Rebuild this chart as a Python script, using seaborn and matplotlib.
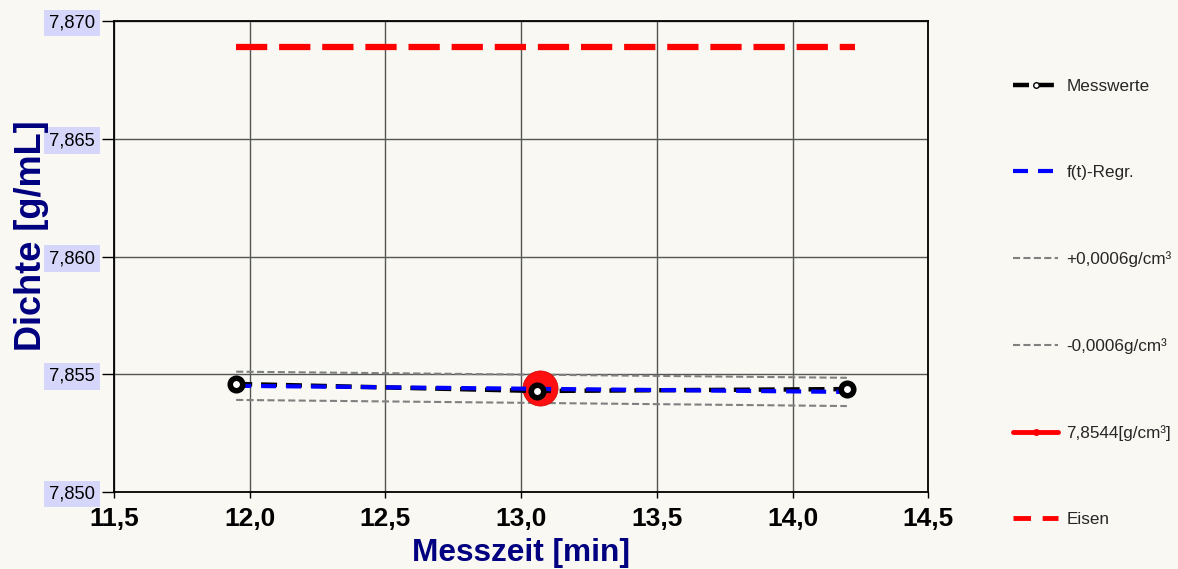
import numpy as np
import pandas as pd
import seaborn as sns
import matplotlib.pyplot as plt
from matplotlib.lines import Line2D
from matplotlib.ticker import FuncFormatter

# ---- data ----
mess_t = [11.95, 13.06, 14.20]
mess_rho = [7.85459, 7.85429, 7.85437]

reg_t = [11.95, 14.20]
reg_rho = [7.85451, 7.85425]
upper_rho = [7.85511, 7.85485]
lower_rho = [7.85391, 7.85365]

mean_t = [13.07]
mean_rho = [7.8544]

eisen_t = [11.95, 14.23]
eisen_rho = [7.8689, 7.8689]

x_ticks = [11.5, 12.0, 12.5, 13.0, 13.5, 14.0, 14.5]
y_ticks = [7.850, 7.855, 7.860, 7.865, 7.870]

legend_labels = ["Messwerte", "f(t)-Regr.", "+0,0006g/cm³", "-0,0006g/cm³",
                 "7,8544[g/cm³]", "Eisen"]

bg = "#f9f8f2"
navy = "#000080"

sns.set_theme(style="ticks")
plt.rcParams["font.family"] = ["Liberation Sans", "DejaVu Sans"]

fig = plt.figure(figsize=(11.78, 5.69), dpi=100, facecolor=bg)
ax = fig.add_axes([0.0968, 0.1353, 0.6912, 0.8278])
ax.set_facecolor(bg)

# bands
sns.lineplot(x=reg_t, y=upper_rho, ax=ax, color="#808080", lw=1.5,
             zorder=3).lines[-1].set_dashes((3.4, 1.6))
sns.lineplot(x=reg_t, y=lower_rho, ax=ax, color="#808080", lw=1.5,
             zorder=3).lines[-1].set_dashes((3.4, 1.6))

# Eisen reference
sns.lineplot(x=eisen_t, y=eisen_rho, ax=ax, color="#ff0000", lw=4.5,
             zorder=3).lines[-1].set_dashes((5, 1.9))

# mean point
sns.scatterplot(x=mean_t, y=mean_rho, ax=ax, s=640, color="#ff1010",
                edgecolor="#d00000", linewidth=0.5, zorder=4)

# measurements
sns.lineplot(x=mess_t, y=mess_rho, ax=ax, color="black", lw=3.2,
             zorder=5).lines[-1].set_dashes((3.6, 2))
ax.plot(mess_t, mess_rho, ls="none", marker="o", ms=9, mfc="white",
        mec="black", mew=4, zorder=7)

# regression
sns.lineplot(x=reg_t, y=reg_rho, ax=ax, color="#0000ff", lw=3.0,
             zorder=6).lines[-1].set_dashes((3.6, 2.4))

ax.set_xlim(11.5, 14.5)
ax.set_ylim(7.850, 7.870)
ax.set_xticks(x_ticks)
ax.set_yticks(y_ticks)
ax.xaxis.set_major_formatter(FuncFormatter(lambda v, p: f"{v:.1f}".replace(".", ",")))
ax.yaxis.set_major_formatter(FuncFormatter(lambda v, p: f"{v:.3f}".replace(".", ",")))
ax.grid(True, color="#555555", lw=1.0)
for s in ax.spines.values():
    s.set_color("black")
    s.set_linewidth(1.3)

ax.tick_params(axis="y", direction="out", length=9, width=1, labelsize=13.2,
               pad=5, colors="black")
ax.tick_params(axis="x", direction="out", length=4, width=1, labelsize=19,
               pad=7, colors="black")
for lbl in ax.get_xticklabels():
    lbl.set_fontweight("bold")
for lbl in ax.get_yticklabels():
    lbl.set_bbox(dict(facecolor="#d6d6fa", edgecolor="none", pad=3.5))

ax.set_xlabel("Messzeit [min]", fontsize=22.8, fontweight="bold", color=navy, labelpad=5)
ax.set_ylabel("Dichte [g/mL]", fontsize=26, fontweight="bold", color=navy)
ax.yaxis.set_label_coords(-0.0800, 0.5435)

handles = [
    Line2D([], [], color="black", lw=3.2, ls=(0, (3.6, 2)), marker="o", ms=4,
           mfc="white", mec="black", markevery=[1]),
    Line2D([], [], color="#0000ff", lw=3.0, ls=(0, (3.6, 2.4))),
    Line2D([], [], color="#808080", lw=1.5, ls=(0, (3.4, 1.6))),
    Line2D([], [], color="#808080", lw=1.5, ls=(0, (3.4, 1.6))),
    Line2D([], [], color="#ff0000", lw=3.5, marker="o", ms=4, markevery=[1]),
    Line2D([], [], color="#ff0000", lw=3.5, ls=(0, (3.6, 2.4))),
]
fig.legend(handles, legend_labels, loc="upper left",
           bbox_to_anchor=(998 / 1178, 1 - 64 / 569), frameon=False,
           fontsize=12.3, handlelength=2.6, handletextpad=0.5,
           labelspacing=4.15)

fig.savefig("out.png", dpi=100, facecolor=bg)
